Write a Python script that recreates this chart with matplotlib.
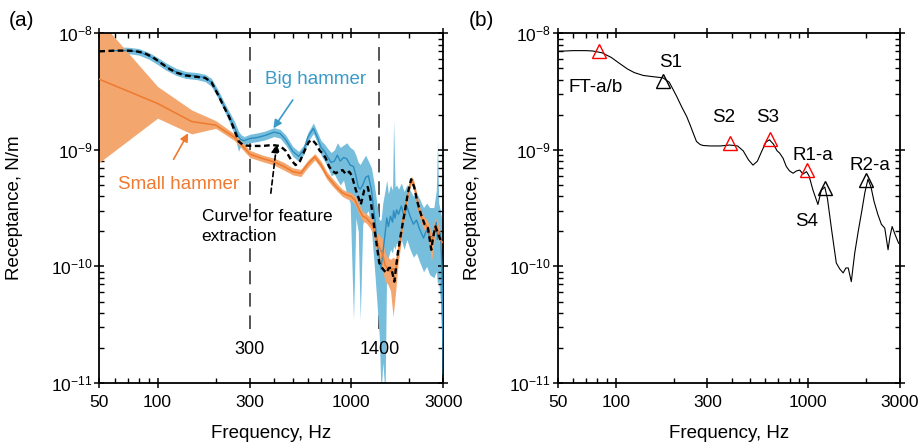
import numpy as np
import matplotlib
matplotlib.use("Agg")
import matplotlib.pyplot as plt
from matplotlib.ticker import FixedLocator, FixedFormatter, NullFormatter, LogLocator

plt.rcParams['font.family'] = ['Liberation Sans', 'DejaVu Sans']
plt.rcParams['mathtext.fontset'] = 'custom'
plt.rcParams['mathtext.rm'] = 'Liberation Sans'
plt.rcParams['mathtext.it'] = 'Liberation Sans:italic'
plt.rcParams['mathtext.bf'] = 'Liberation Sans:bold'

# ---------------- data ----------------
# Curve used for feature extraction (dashed in (a), solid in (b))
f_feat = [50, 60, 70, 76, 85, 95, 105, 115, 125, 139, 155, 176, 190, 207, 220, 234,
          245, 253, 263, 275, 285, 310, 350, 391, 430, 460, 490, 517, 545, 575, 605,
          630, 660, 690, 710, 740, 770, 800, 835, 870, 905, 940, 980, 1010, 1060,
          1124, 1170, 1220, 1260, 1327, 1400, 1460, 1520, 1570, 1615, 1675, 1745,
          1820, 1900, 1970, 2045, 2120, 2200, 2300, 2400, 2500, 2600, 2660, 2730,
          2820, 2950]
r_feat = [7.0e-9, 7.1e-9, 7.1e-9, 7.05e-9, 6.8e-9, 6.2e-9, 5.5e-9, 4.95e-9, 4.6e-9,
          4.35e-9, 4.25e-9, 4.15e-9, 3.8e-9, 2.9e-9, 2.35e-9, 1.93e-9, 1.6e-9,
          1.39e-9, 1.18e-9, 1.11e-9, 1.09e-9, 1.08e-9, 1.08e-9, 1.1e-9, 1.08e-9,
          0.98e-9, 0.82e-9, 0.74e-9, 0.8e-9, 0.98e-9, 1.17e-9, 1.22e-9, 1.12e-9,
          0.98e-9, 0.94e-9, 0.85e-9, 0.72e-9, 0.66e-9, 0.63e-9, 0.66e-9, 0.67e-9,
          0.62e-9, 0.65e-9, 0.6e-9, 0.45e-9, 0.34e-9, 0.45e-9, 0.48e-9, 0.38e-9,
          0.2e-9, 1.07e-10, 0.95e-10, 0.88e-10, 0.97e-10, 0.97e-10, 0.74e-10,
          1.3e-10, 2.0e-10, 3.0e-10, 4.3e-10, 5.6e-10, 4.8e-10, 3.6e-10, 2.8e-10,
          2.3e-10, 2.13e-10, 1.39e-10, 1.8e-10, 2.2e-10, 1.9e-10, 1.58e-10]

# Big hammer: mean and spread
f_big = [60, 70, 80, 90, 100, 110, 125, 140, 160, 176, 190, 207, 220, 234, 250, 262,
         270, 280, 300, 330, 360, 400, 430, 460, 500, 536, 570, 600, 639, 670, 700,
         730, 760, 790, 820, 850, 880, 915, 950, 990, 1030, 1060, 1090, 1116, 1150,
         1190, 1230, 1276, 1320, 1360, 1400, 1430, 1460, 1500, 1530, 1560, 1600,
         1640, 1660, 1690, 1720, 1760, 1820, 1880, 1945, 2020, 2100, 2180, 2260,
         2370, 2460, 2550, 2680, 2760, 2800, 2840, 2900, 2950, 3000]
big_mean = [7.1e-9, 7.1e-9, 6.95e-9, 6.4e-9, 5.8e-9, 5.2e-9, 4.65e-9, 4.4e-9, 4.3e-9,
            4.15e-9, 3.8e-9, 2.95e-9, 2.4e-9, 1.95e-9, 1.55e-9, 1.3e-9, 1.22e-9,
            1.2e-9, 1.25e-9, 1.28e-9, 1.33e-9, 1.42e-9, 1.38e-9, 1.22e-9, 0.97e-9,
            0.88e-9, 1.0e-9, 1.3e-9, 1.53e-9, 1.28e-9, 1.05e-9, 0.97e-9, 0.86e-9,
            0.78e-9, 0.8e-9, 0.9e-9, 0.8e-9, 0.86e-9, 0.84e-9, 0.74e-9, 0.72e-9,
            0.6e-9, 0.48e-9, 0.46e-9, 0.5e-9, 0.58e-9, 0.6e-9, 0.45e-9, 0.28e-9,
            0.17e-9, 1.2e-10, 0.95e-10, 1.3e-10, 1.9e-10, 2.6e-10, 2.2e-10, 2.7e-10,
            2.4e-10, 3.0e-10, 2.6e-10, 3.06e-10, 2.8e-10, 3.3e-10, 2.7e-10, 3.27e-10,
            2.7e-10, 2.3e-10, 2.5e-10, 2.1e-10, 1.75e-10, 2.06e-10, 1.8e-10, 1.8e-10,
            2.4e-10, 1.7e-10, 2.0e-10, 1.9e-10, 1.0e-10, 1.2e-11]
big_low = [6.7e-9, 6.7e-9, 6.5e-9, 6.0e-9, 5.4e-9, 4.85e-9, 4.35e-9, 4.1e-9, 4.0e-9,
           3.85e-9, 3.5e-9, 2.7e-9, 2.2e-9, 1.75e-9, 1.35e-9, 0.97e-9, 1.1e-9,
           1.12e-9, 1.15e-9, 1.18e-9, 1.22e-9, 1.3e-9, 1.26e-9, 1.1e-9, 0.88e-9,
           0.8e-9, 0.91e-9, 1.18e-9, 1.38e-9, 1.15e-9, 0.9e-9, 0.8e-9, 0.7e-9,
           0.6e-9, 0.62e-9, 0.55e-9, 0.5e-9, 0.55e-9, 0.42e-9, 0.35e-9, 3.5e-11,
           2.6e-10, 2.0e-10, 3.5e-11, 2.3e-10, 2.8e-10, 3.0e-10, 2.0e-10, 1.0e-10,
           5e-11, 2.5e-11, 8e-12, 1.5e-11, 8e-12, 1.1e-10, 1.2e-10, 1.4e-10, 1.3e-10,
           1.5e-10, 1.4e-10, 1.6e-10, 1.5e-10, 1.7e-10, 1.4e-10, 1.7e-10, 1.4e-10,
           1.2e-10, 1.3e-10, 1.1e-10, 0.9e-10, 1.0e-10, 0.85e-10, 0.8e-10, 0.9e-10,
           0.7e-10, 0.75e-10, 0.5e-10, 2e-11, 8e-12]
big_high = [7.6e-9, 7.6e-9, 7.4e-9, 6.85e-9, 6.2e-9, 5.6e-9, 5.0e-9, 4.7e-9, 4.6e-9,
            4.45e-9, 4.1e-9, 3.2e-9, 2.6e-9, 2.15e-9, 1.75e-9, 1.45e-9, 1.35e-9,
            1.3e-9, 1.36e-9, 1.4e-9, 1.45e-9, 1.55e-9, 1.5e-9, 1.34e-9, 1.07e-9,
            0.97e-9, 1.1e-9, 1.42e-9, 1.7e-9, 1.42e-9, 1.2e-9, 1.12e-9, 1.02e-9,
            0.95e-9, 1.0e-9, 1.15e-9, 1.05e-9, 1.1e-9, 1.15e-9, 1.05e-9, 1.0e-9,
            0.9e-9, 0.78e-9, 0.75e-9, 0.82e-9, 0.9e-9, 0.8e-9, 0.7e-9, 0.5e-9,
            0.35e-9, 2.5e-10, 2.5e-10, 3.5e-10, 4.5e-10, 5.5e-10, 4.2e-10, 5.0e-10,
            4.5e-10, 1.8e-9, 4.8e-10, 5.0e-10, 4.6e-10, 5.2e-10, 4.4e-10, 5.0e-10,
            4.5e-10, 4.0e-10, 4.3e-10, 3.8e-10, 3.2e-10, 3.5e-10, 3.2e-10, 3.2e-10,
            4.5e-10, 1.2e-9, 3.5e-10, 3.0e-10, 2.5e-10, 2.0e-10]

# Small hammer: mean and spread
f_small = [50, 100, 150, 200, 250, 300, 350, 400, 450, 500, 550, 600, 650, 700, 750,
           800, 850, 900, 950, 1000, 1050, 1100, 1150, 1200, 1250, 1300, 1350, 1400,
           1450, 1500, 1550, 1600, 1650, 1700, 1750, 1800, 1850, 1900, 1950, 2000,
           2050, 2100, 2150, 2200, 2250, 2300, 2350, 2400, 2450, 2500, 2550, 2600,
           2650, 2700, 2750, 2800, 2850, 2900, 2950, 3000]
small_mean = [4.03e-9, 2.5e-9, 1.75e-9, 1.63e-9, 1.28e-9, 0.92e-9, 0.84e-9, 0.79e-9,
              0.72e-9, 0.65e-9, 0.63e-9, 0.76e-9, 0.87e-9, 0.74e-9, 0.6e-9, 0.53e-9,
              0.47e-9, 0.43e-9, 0.41e-9, 0.40e-9, 0.37e-9, 0.31e-9, 0.27e-9, 0.26e-9,
              0.24e-9, 0.22e-9, 0.17e-9, 1.45e-10, 1.3e-10, 1.03e-10, 0.95e-10,
              0.91e-10, 0.96e-10, 0.9e-10, 1.3e-10, 1.7e-10, 2.4e-10, 3.1e-10, 3.9e-10,
              4.8e-10, 5.5e-10, 5.2e-10, 4.4e-10, 3.7e-10, 3.0e-10, 2.7e-10, 2.5e-10,
              2.3e-10, 2.25e-10, 2.1e-10, 1.9e-10, 1.6e-10, 1.75e-10, 2.15e-10,
              2.2e-10, 2.1e-10, 1.85e-10, 1.7e-10, 1.62e-10, 1.6e-10]
small_low = [7.8e-10, 1.87e-9, 1.37e-9, 1.53e-9, 1.2e-9, 0.86e-9, 0.79e-9, 0.74e-9,
             0.67e-9, 0.61e-9, 0.59e-9, 0.71e-9, 0.82e-9, 0.69e-9, 0.56e-9, 0.49e-9,
             0.44e-9, 0.4e-9, 0.38e-9, 0.37e-9, 0.34e-9, 0.28e-9, 0.245e-9, 0.235e-9,
             0.215e-9, 0.19e-9, 0.14e-9, 1.1e-10, 0.95e-10, 0.75e-10, 0.7e-10,
             0.62e-10, 0.37e-10, 0.6e-10, 1.05e-10, 1.45e-10, 2.1e-10, 2.8e-10,
             3.5e-10, 4.4e-10, 5.1e-10, 4.8e-10, 4.0e-10, 3.35e-10, 2.7e-10, 2.4e-10,
             2.2e-10, 2.0e-10, 1.95e-10, 1.8e-10, 1.55e-10, 1.1e-10, 1.3e-10, 1.8e-10,
             1.9e-10, 1.8e-10, 1.6e-10, 1.45e-10, 1.4e-10, 1.35e-10]
small_high = [1.3e-8, 3.5e-9, 2.2e-9, 1.78e-9, 1.37e-9, 0.99e-9, 0.9e-9, 0.85e-9,
              0.78e-9, 0.7e-9, 0.68e-9, 0.82e-9, 0.93e-9, 0.8e-9, 0.65e-9, 0.57e-9,
              0.51e-9, 0.46e-9, 0.44e-9, 0.43e-9, 0.4e-9, 0.34e-9, 0.295e-9, 0.285e-9,
              0.265e-9, 0.25e-9, 0.2e-9, 1.85e-10, 1.75e-10, 1.3e-10, 1.2e-10,
              1.15e-10, 1.2e-10, 1.15e-10, 1.55e-10, 2.0e-10, 2.7e-10, 3.45e-10,
              4.3e-10, 5.2e-10, 5.9e-10, 5.6e-10, 4.8e-10, 4.05e-10, 3.3e-10, 3.0e-10,
              2.8e-10, 2.6e-10, 2.55e-10, 2.4e-10, 2.2e-10, 1.9e-10, 2.05e-10, 2.5e-10,
              2.55e-10, 2.45e-10, 2.15e-10, 1.95e-10, 1.85e-10, 1.8e-10]

# Reference frequencies marked in (a)
ref_freqs = [300, 1400]
ref_labels = ["300", "1400"]

# Identified modes in (b)
red_names = ["FT-a/b", "S2", "S3", "R1-a"]
red_f = [82, 391, 636, 990]
red_r = [7.0e-9, 1.14e-9, 1.25e-9, 6.7e-10]
black_names = ["S1", "S4", "R2-a"]
black_f = [177, 1220, 2005]
black_r = [3.89e-9, 4.7e-10, 5.46e-10]

# Axis ticks
x_major = [50, 100, 300, 1000, 3000]
x_major_labels = ["50", "100", "300", "1000", "3000"]
x_minor = [60, 70, 80, 90, 200, 400, 500, 600, 700, 800, 900, 2000]
y_major = [1e-11, 1e-10, 1e-9, 1e-8]
y_major_labels = [r"$\mathregular{10^{-11}}$", r"$\mathregular{10^{-10}}$",
                  r"$\mathregular{10^{-9}}$", r"$\mathregular{10^{-8}}$"]

# ---------------- colours ----------------
BLUE_LINE = "#2b8dc0"
BLUE_BAND = "#77bedd"
ORANGE_LINE = "#ee7a2e"
ORANGE_BAND = "#f3a66e"

fig = plt.figure(figsize=(9.23, 4.48), dpi=100)
ax_a = fig.add_axes([0.1076, 0.1451, 0.3727, 0.7806])
ax_b = fig.add_axes([0.6042, 0.1451, 0.3709, 0.7806])


def style_axes(ax):
    ax.set_xscale("log")
    ax.set_yscale("log")
    ax.set_xlim(50, 3000)
    ax.set_ylim(1e-11, 1e-8)
    ax.xaxis.set_major_locator(FixedLocator(x_major))
    ax.xaxis.set_major_formatter(FixedFormatter(x_major_labels))
    ax.xaxis.set_minor_locator(FixedLocator(x_minor))
    ax.xaxis.set_minor_formatter(NullFormatter())
    ax.yaxis.set_major_locator(FixedLocator(y_major))
    ax.yaxis.set_major_formatter(FixedFormatter(y_major_labels))
    ax.yaxis.set_minor_locator(LogLocator(base=10, subs=np.arange(2, 10)))
    ax.yaxis.set_minor_formatter(NullFormatter())
    ax.tick_params(which="major", direction="inout", length=7, width=1.1,
                   top=True, right=True, labelsize=12.5)
    ax.tick_params(which="minor", direction="in", length=3.5, width=1.0,
                   top=True, right=True)
    ax.tick_params(axis="x", which="major", pad=5)
    ax.tick_params(axis="y", which="major", pad=1.5)
    for sp in ax.spines.values():
        sp.set_linewidth(1.3)
    ax.set_xlabel("Frequency, Hz", fontsize=13.5)
    ax.set_ylabel("Receptance, N/m", fontsize=13.5)
    ax.yaxis.set_label_coords(-0.223, 0.5)
    ax.xaxis.set_label_coords(0.5, -0.12)


style_axes(ax_a)
style_axes(ax_b)

# ---------------- panel (a) ----------------
ax_a.fill_between(f_big, big_low, big_high, color=BLUE_BAND, lw=0, zorder=1)
ax_a.fill_between(f_small, small_low, small_high, color=ORANGE_BAND, lw=0, zorder=2)
ax_a.plot(f_big, big_mean, color=BLUE_LINE, lw=1.0, zorder=3)
ax_a.plot(f_small, small_mean, color=ORANGE_LINE, lw=1.1, zorder=4)
ax_a.plot(f_feat, r_feat, color="black", lw=1.7, ls=(0, (2.4, 1.5)), zorder=5)

ax_a.vlines(ref_freqs, 2.9e-11, 1e-8, colors="#555555", lw=1.4,
            linestyles=[(0, (7, 4.5))], zorder=0.5)
for fr, lab in zip(ref_freqs, ref_labels):
    ax_a.text(fr, 1.93e-11, lab, ha="center", va="center", fontsize=13)

ax_a.text(652, 3.98e-9, "Big hammer", color="#3a9bc8", fontsize=13.5,
          ha="center", va="center")
ax_a.annotate("", xy=(397, 1.53e-9), xytext=(500, 2.68e-9),
              arrowprops=dict(arrowstyle="-|>", color="#3a9bc8", lw=1.2,
                              mutation_scale=12, shrinkA=0, shrinkB=0))
ax_a.text(129, 5.0e-10, "Small hammer", color="#ef7a2f", fontsize=13.5,
          ha="center", va="center")
ax_a.annotate("", xy=(144, 1.39e-9), xytext=(121, 8.3e-10),
              arrowprops=dict(arrowstyle="-|>", color="#ef7a2f", lw=1.2,
                              mutation_scale=12, shrinkA=0, shrinkB=0))
ax_a.text(169, 2.2e-10, "Curve for feature\nextraction", color="black",
          fontsize=12.5, ha="left", va="center", linespacing=1.35)
ax_a.annotate("", xy=(413, 1.12e-9), xytext=(385, 4.25e-10),
              arrowprops=dict(arrowstyle="-|>", color="black", lw=1.2,
                              linestyle=(0, (3, 2)), mutation_scale=12,
                              shrinkA=0, shrinkB=0))

# ---------------- panel (b) ----------------
ax_b.plot(f_feat, r_feat, color="black", lw=0.8, zorder=3)
ax_b.plot(red_f, red_r, ls="none", marker="^", ms=10, mfc="none", mec="red",
          mew=1.0, zorder=4)
ax_b.plot(black_f, black_r, ls="none", marker="^", ms=10, mfc="none", mec="black",
          mew=1.0, zorder=4)

label_pos = {
    "FT-a/b": (79, 3.43e-9),
    "S1": (194, 5.6e-9),
    "S2": (362, 1.88e-9),
    "S3": (617, 1.88e-9),
    "R1-a": (1060, 8.9e-10),
    "R2-a": (2094, 7.3e-10),
    "S4": (980, 2.44e-10),
}
for name, (fx, ry) in label_pos.items():
    ax_b.text(fx, ry, name, ha="center", va="center", fontsize=13.5)

fig.text(22 / 923, 1 - 20 / 448, "(a)", fontsize=15, ha="center", va="center")
fig.text(481 / 923, 1 - 20 / 448, "(b)", fontsize=15, ha="center", va="center")

fig.savefig("out.png", dpi=100)
